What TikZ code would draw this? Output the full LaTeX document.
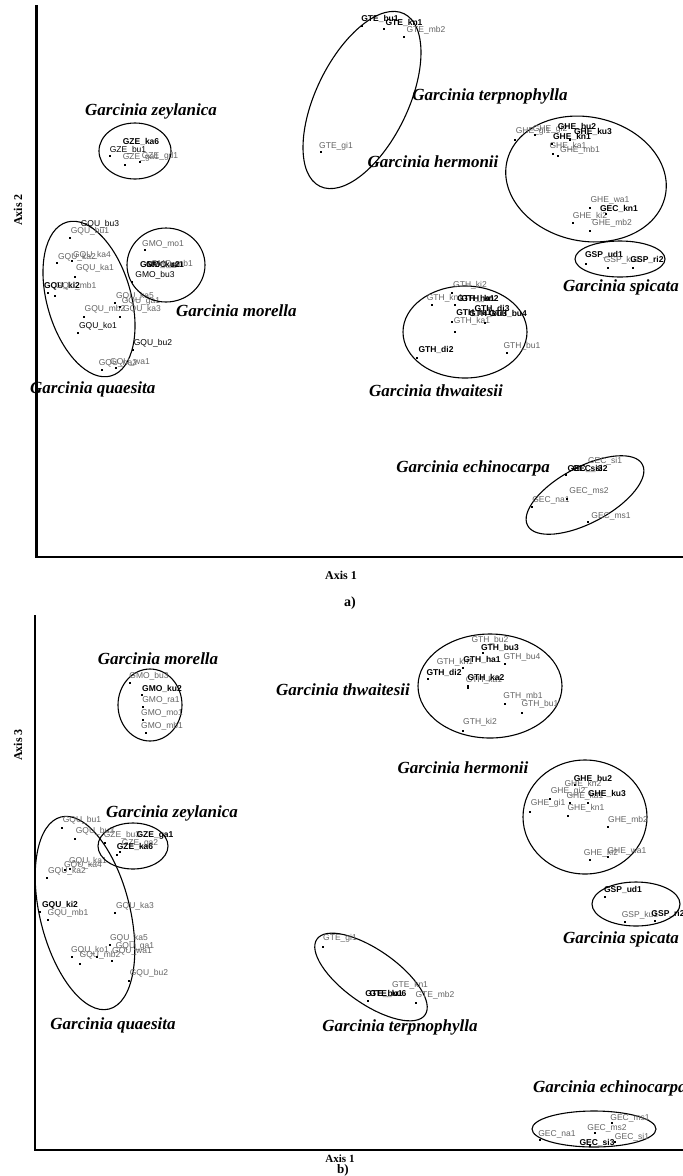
\documentclass[tikz,border=0pt]{standalone}
\usepackage{fontspec}
\setmainfont{Liberation Serif}
\newfontfamily\arialf{Liberation Sans}
\definecolor{labgray}{RGB}{100,100,100}
\tikzset{
 gl/.style={font=\arialf\fontsize{8.5}{8.5}\selectfont, text=labgray, inner sep=0},
 bl/.style={font=\arialf\fontsize{8.5}{8.5}\selectfont, text=black, inner sep=0},
 bbl/.style={font=\arialf\bfseries\fontsize{8.5}{8.5}\selectfont, text=black, inner sep=0},
 spl/.style={font=\bfseries\itshape\fontsize{17}{17}\selectfont, inner sep=0},
 axl/.style={font=\bfseries\fontsize{12}{12}\selectfont, inner sep=0},
 grp/.style={line width=1.1pt},
 axisline/.style={line width=2.4pt},
}
\newcounter{lbc}
\newcommand\lb[3]{\stepcounter{lbc}\node[#1] (lb\arabic{lbc}) at (#2) {#3};}
\newcommand\pd[1]{\fill (#1) ++(-1,-1) rectangle ++(2,2);}
\newcommand\grpell[5]{\draw[grp, rotate around={#5:(#1,#2)}] (#1,#2) ellipse [x radius=#3, y radius=#4];}
\begin{document}
\begin{tikzpicture}[x=1pt,y=-1pt]
\useasboundingbox (0,0) rectangle (683,1176);
\clip (0,0) rectangle (683,1176);
\fill[white] (0,0) rectangle (683,1176);
% ================= panel a =================
\draw[axisline] (36.5,5) -- (36.5,557) -- (683,557);
\lb{axl,rotate=90}{18,210}{Axis 2}
\lb{axl}{341,575}{Axis 1}
\lb{axl,font=\bfseries\fontsize{14}{14}\selectfont}{350,603}{a)}
% GTE
\grpell{362}{100}{96}{46}{64}
\lb{bbl}{380,19}{GTE\_bu1}
\lb{bbl}{404,22.5}{GTE\_kn1}
\lb{gl}{426,30}{GTE\_mb2}
\pd{362,26}\pd{384,29}\pd{404,37}
\lb{gl}{336,146}{GTE\_gi1}
\pd{321,152}
\lb{spl}{490,96}{Garcinia terpnophylla}
% GZE
\grpell{135}{151}{36}{28}{0}
\lb{bbl}{141,142}{GZE\_ka6}
\lb{bl}{128,150}{GZE\_bu1}
\lb{gl}{141,157}{GZE\_ga1}
\lb{gl}{160,156}{GZE\_gd1}
\pd{110,156}\pd{125,165}\pd{140,162}
\lb{spl}{151,111}{Garcinia zeylanica}
% GHE
\grpell{586}{179}{81}{62}{-12}
\lb{gl}{533,131}{GHE\_gi1}
\lb{gl}{550,129}{GHE\_gi2}
\lb{bbl}{577,126.5}{GHE\_bu2}
\lb{bbl}{593,131.5}{GHE\_ku3}
\lb{bbl}{572,136.5}{GHE\_kn1}
\lb{gl}{568,146.5}{GHE\_ka1}
\lb{gl}{580,150}{GHE\_mb1}
\pd{515,140}\pd{535,135}\pd{570,140}\pd{552,144}\pd{553,154}\pd{558,156}
\lb{gl}{610,200}{GHE\_wa1}
\lb{bbl}{619,209}{GEC\_kn1}
\lb{gl}{590,216}{GHE\_ki2}
\lb{gl}{612,223.5}{GHE\_mb2}
\pd{590,208}\pd{606,214}\pd{573,223}\pd{590,231}
\lb{spl}{433,162}{Garcinia hermonii}
% GSP
\grpell{620}{259}{45}{18}{0}
\lb{bbl}{604,255}{GSP\_ud1}
\lb{gl}{622,260}{GSP\_ku1}
\lb{bbl}{647,260}{GSP\_ri2}
\pd{586,264}\pd{608,268}\pd{633,268}
\lb{spl,anchor=west}{563,287}{Garcinia spicata}
% GQU
\grpell{89}{299}{80}{42}{-74}
\lb{bl}{100,224.5}{GQU\_bu3}
\lb{gl}{90,231.5}{GQU\_bu1}
\pd{70,238}
\lb{gl}{92,255}{GQU\_ka4}
\lb{gl}{77,257}{GQU\_ka2}
\pd{57,263}\pd{72,261}
\lb{gl}{95,268.5}{GQU\_ka1}
\pd{75,277}
\lb{bbl}{62,286}{GQU\_ki2}
\lb{gl}{76,286.5}{GQU\_mb1}
\pd{48,293}\pd{55,296}
\lb{gl}{135,296.5}{GQU\_ka5}
\lb{gl}{141,301.5}{GQU\_ga1}
\lb{gl}{142,309.5}{GQU\_ka3}
\lb{gl}{105,309.5}{GQU\_mb2}
\pd{115,303}\pd{120,307}\pd{84,317}\pd{120,317}
\lb{bl}{98,326}{GQU\_ko1}
\pd{78,333}
\lb{bl}{153,343.5}{GQU\_bu2}
\pd{133,350}
\lb{gl}{118,363}{GQU\_na2}
\lb{gl}{130,362}{GQU\_wa1}
\pd{102,370}\pd{116,368}
\lb{spl,anchor=west}{30,389}{Garcinia quaesita}
% GMO
\grpell{166}{265}{39}{37}{0}
\lb{gl}{163,244}{GMO\_mo1}
\pd{145,250}
\lb{bbl}{160,265}{GMO\_ku2}
\lb{bbl}{165,265}{GMO\_ra1}
\lb{gl}{172,264}{GMO\_mb1}
\lb{bl}{155,275}{GMO\_bu3}
\pd{132,282}
\lb{spl,anchor=west}{176,311}{Garcinia morella}
% GTH
\grpell{465}{332}{62}{46}{0}
\lb{gl}{470,285}{GTH\_ki2}
\pd{452,293}
\lb{gl}{445,298.5}{GTH\_kn1}
\lb{bbl}{476,298.5}{GTH\_ha1}
\lb{bbl}{480,298.5}{GTH\_kn2}
\pd{432,305}\pd{455,305}
\lb{bbl}{492,308.5}{GTH\_di3}
\lb{bbl}{474,313.5}{GTH\_ra1}
\lb{bbl}{488,313.5}{GTH\_bu3}
\lb{bbl}{508,313.5}{GTH\_bu4}
\lb{gl}{472,321.5}{GTH\_ka1}
\pd{452,322}\pd{485,323}\pd{455,332}
\lb{bbl}{436,350}{GTH\_di2}
\pd{417,358}
\lb{gl}{522,346.5}{GTH\_bu1}
\pd{507,353}
\lb{spl}{436,391}{Garcinia thwaitesii}
% GEC
\grpell{585}{495}{65}{28}{28}
\lb{gl}{605,461.5}{GEC\_si1}
\lb{bbl}{585,468.5}{GEC\_si3}
\lb{bbl}{590,468.5}{GEC\_si2}
\pd{566,475}
\lb{gl}{589,491.5}{GEC\_ms2}
\lb{gl}{551,500}{GEC\_na1}
\pd{532,507}\pd{567,499}
\lb{gl}{611,516.5}{GEC\_ms1}
\pd{588,522}
\lb{spl,anchor=east}{550,468}{Garcinia echinocarpa}
% ================= panel b =================
\draw[axisline] (35,615) -- (35,1150) -- (683,1150);
\lb{axl,rotate=90}{18,745}{Axis 3}
\lb{axl,font=\bfseries\fontsize{11}{11}\selectfont}{340,1158.5}{Axis 1}
\lb{axl,font=\bfseries\fontsize{13}{13}\selectfont}{343,1170}{b)}
% GMO
\grpell{150}{705}{32}{36}{0}
\lb{gl}{149,676.5}{GMO\_bu3}
\pd{130,683}
\lb{bbl}{162,688.5}{GMO\_ku2}
\pd{142,695}
\lb{gl}{161,700}{GMO\_ra1}
\pd{143,707}
\lb{gl}{162,713.5}{GMO\_mo1}
\pd{143,720}
\lb{gl}{162,726}{GMO\_mb1}
\pd{146,733}
\lb{spl}{158,659}{Garcinia morella}
% GTH
\grpell{490}{686}{72}{52}{0}
\lb{gl}{490,640}{GTH\_bu2}
\lb{bbl}{500,647.5}{GTH\_bu3}
\pd{483,653}
\lb{gl}{455,662.5}{GTH\_kn1}
\lb{bbl}{482,659.5}{GTH\_ha1}
\lb{gl}{522,657.5}{GTH\_bu4}
\pd{463,668}\pd{505,664}
\lb{bbl}{444,672.5}{GTH\_di2}
\pd{428,679}
\lb{gl}{484,680}{GTH\_ka1}
\lb{bbl}{486,677.5}{GTH\_ka2}
\pd{468,686}\pd{468,688}
\lb{gl}{523,696}{GTH\_mb1}
\pd{505,704}
\lb{gl}{540,704.5}{GTH\_bu1}
\pd{522,713}
\lb{gl}{480,722.5}{GTH\_ki2}
\pd{463,731}
\lb{spl}{343,690}{Garcinia thwaitesii}
% GHE
\grpell{585}{817}{62}{57}{0}
\lb{bbl}{593,778.5}{GHE\_bu2}
\pd{575,785}
\lb{gl}{583,784}{GHE\_kn2}
\lb{gl}{568,791.5}{GHE\_gi2}
\lb{gl}{585,796.5}{GHE\_ka1}
\lb{bbl}{607,794}{GHE\_ku3}
\pd{588,803}
\lb{gl}{548,803.5}{GHE\_gi1}
\pd{530,812}\pd{550,799}\pd{570,803}
\lb{gl}{586,808.5}{GHE\_kn1}
\pd{568,816}
\lb{gl}{628,820}{GHE\_mb2}
\pd{608,827}
\lb{gl}{601,853.5}{GHE\_ki2}
\lb{gl}{627,851.5}{GHE\_wa1}
\pd{590,860}\pd{608,857}
\lb{spl}{463,768}{Garcinia hermonii}
% GSP
\grpell{636}{904}{44}{22}{0}
\lb{bbl}{623,890}{GSP\_ud1}
\pd{605,897}
\lb{gl}{640,915}{GSP\_ku1}
\lb{bbl}{668,913.5}{GSP\_ri2}
\pd{625,922}\pd{655,921}
\lb{spl,anchor=west}{563,939}{Garcinia spicata}
% GQU
\grpell{85}{913}{99}{45}{-76}
\lb{gl}{82,820}{GQU\_bu1}
\pd{62,828}
\lb{gl}{95,831.5}{GQU\_bu3}
\pd{75,839}
\lb{gl}{88,861.5}{GQU\_ka1}
\lb{gl}{83,865}{GQU\_ka4}
\pd{65,870}\pd{70,869}
\lb{gl}{67,871.5}{GQU\_ka2}
\pd{47,878}
\lb{bbl}{60,905}{GQU\_ki2}
\pd{40,912}
\lb{gl}{68,913.5}{GQU\_mb1}
\pd{48,920}
\lb{gl}{135,906.5}{GQU\_ka3}
\pd{115,913}
\lb{gl}{129,938.5}{GQU\_ka5}
\pd{110,945}
\lb{gl}{135,946.5}{GQU\_ga1}
\lb{gl}{132,951.5}{GQU\_wa1}
\lb{gl}{90,950}{GQU\_ko1}
\lb{gl}{100,955}{GQU\_mb2}
\pd{72,957}\pd{80,964}\pd{97,957}\pd{112,961}
\lb{gl}{149,973.5}{GQU\_bu2}
\pd{129,981}
\lb{spl}{113,1025}{Garcinia quaesita}
% GZE
\grpell{133}{846}{35}{23}{0}
\lb{gl}{122,835}{GZE\_bu3}
\lb{bbl}{155,835}{GZE\_ga1}
\pd{105,843}
\lb{gl}{140,843.5}{GZE\_ga2}
\lb{bbl}{135,846.5}{GZE\_ka6}
\pd{120,852}\pd{117,855}
\lb{spl}{172,813}{Garcinia zeylanica}
% GTE
\grpell{371}{977}{66}{27}{-35}
\lb{gl}{340,938.5}{GTE\_gi1}
\pd{323,947}
\lb{gl}{410,985}{GTE\_kn1}
\lb{bbl}{384,993.5}{GTE\_bu1}
\lb{bbl}{388,993.5}{GTE\_ku6}
\lb{gl}{435,995}{GTE\_mb2}
\pd{368,1001}\pd{416,1003}
\lb{spl}{400,1027}{Garcinia terpnophylla}
% GEC
\grpell{594}{1129}{62}{18}{0}
\lb{gl}{630,1118}{GEC\_ms1}
\lb{gl}{607,1128}{GEC\_ms2}
\lb{gl}{557,1134}{GEC\_na1}
\lb{gl}{632,1137}{GEC\_si1}
\lb{bbl}{597,1143}{GEC\_si3}
\pd{612,1123}\pd{595,1133}\pd{540,1140}\pd{615,1142}\pd{590,1146}
\lb{spl,anchor=west}{533,1088}{Garcinia echinocarpa}
\end{tikzpicture}
\end{document}
